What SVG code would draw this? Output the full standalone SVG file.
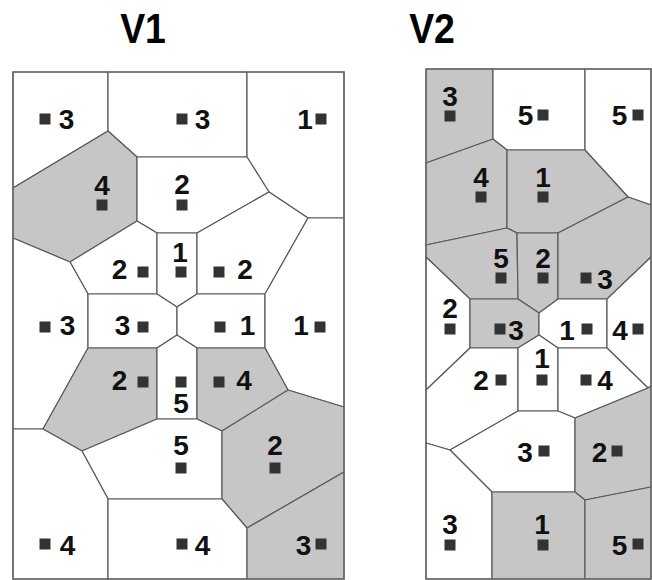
<svg xmlns="http://www.w3.org/2000/svg" width="652" height="580" viewBox="0 0 652 580">
<style>
.c{fill:#fff;stroke:#5a5a5a;stroke-width:1.2;stroke-linejoin:round}
.g{fill:#c6c6c6;stroke:#5a5a5a;stroke-width:1.2;stroke-linejoin:round}
.frame{fill:none;stroke:#6a6a6a;stroke-width:1.5}
.t{font-family:"Liberation Sans",Arial,sans-serif;font-weight:bold;font-size:28px;fill:#111;text-anchor:middle}
.h{font-family:"Liberation Sans",Arial,sans-serif;font-weight:bold;font-size:43px;fill:#000;text-anchor:middle}
</style>
<defs><rect id="sq" x="-5.5" y="-5.5" width="11" height="11" fill="#333"/></defs>
<rect width="652" height="580" fill="#fff"/>
<text class="h" transform="translate(143,43) scale(0.87,1)">V1</text>
<text class="h" transform="translate(432,43) scale(0.87,1)">V2</text>

<g id="V1">
<g id="v1-c1"><polygon class="c" points="13,72 108,72 108,131 13,188"/><use href="#sq" x="45" y="119"/><text class="t" x="66.5" y="129">3</text></g>
<g id="v1-c2"><polygon class="c" points="108,72 247,72 247,157 137,157 108,131"/><use href="#sq" x="182" y="119"/><text class="t" x="202.5" y="129">3</text></g>
<g id="v1-c3"><polygon class="c" points="247,72 344,72 344,218 308,218 269,192 247,157"/><use href="#sq" x="321" y="119"/><text class="t" x="305" y="129">1</text></g>
<g id="v1-c4"><polygon class="g" points="13,188 108,131 137,157 137,221 70,262 13,238"/><use href="#sq" x="102" y="205"/><text class="t" x="102" y="195">4</text></g>
<g id="v1-c5"><polygon class="c" points="137,157 247,157 269,192 197,233 157,233 137,221"/><use href="#sq" x="182" y="205"/><text class="t" x="182" y="194">2</text></g>
<g id="v1-c6"><polygon class="c" points="70,262 137,221 157,233 157,294 88,294"/><use href="#sq" x="143" y="272"/><text class="t" x="119.5" y="279">2</text></g>
<g id="v1-c7"><polygon class="c" points="157,233 197,233 197,294 177,307 157,294"/><use href="#sq" x="181" y="272"/><text class="t" x="180" y="262">1</text></g>
<g id="v1-c8"><polygon class="c" points="197,233 269,192 308,218 265,294 197,294"/><use href="#sq" x="219" y="272"/><text class="t" x="245" y="279">2</text></g>
<g id="v1-c9"><polygon class="c" points="13,238 70,262 88,294 88,348 43,429 13,429"/><use href="#sq" x="45" y="327"/><text class="t" x="67.5" y="335">3</text></g>
<g id="v1-c10"><polygon class="c" points="88,294 157,294 177,307 177,335 157,348 88,348"/><use href="#sq" x="143" y="327"/><text class="t" x="122.5" y="335">3</text></g>
<g id="v1-c11"><polygon class="c" points="197,294 265,294 265,348 197,348 177,335 177,307"/><use href="#sq" x="220" y="327"/><text class="t" x="247.5" y="335">1</text></g>
<g id="v1-c12"><polygon class="c" points="308,218 344,218 344,407 288,390 265,348 265,294"/><use href="#sq" x="320" y="327"/><text class="t" x="301" y="335">1</text></g>
<g id="v1-c13"><polygon class="g" points="88,348 157,348 157,419 82,451 43,429"/><use href="#sq" x="143" y="382"/><text class="t" x="119.5" y="390">2</text></g>
<g id="v1-c14"><polygon class="c" points="157,348 177,335 197,348 197,419 157,419"/><use href="#sq" x="181" y="382"/><text class="t" x="181" y="413">5</text></g>
<g id="v1-c15"><polygon class="g" points="197,348 265,348 288,390 222,431 197,419"/><use href="#sq" x="219" y="382"/><text class="t" x="244" y="390">4</text></g>
<g id="v1-c16"><polygon class="c" points="157,419 197,419 222,431 222,499 108,499 82,451"/><use href="#sq" x="181" y="468"/><text class="t" x="181" y="455">5</text></g>
<g id="v1-c17"><polygon class="g" points="288,390 344,407 344,472 247,528 222,499 222,431"/><use href="#sq" x="275" y="468"/><text class="t" x="275" y="455">2</text></g>
<g id="v1-c18"><polygon class="c" points="13,429 43,429 82,451 108,499 108,579 13,579"/><use href="#sq" x="45" y="544"/><text class="t" x="67.5" y="555">4</text></g>
<g id="v1-c19"><polygon class="c" points="108,499 222,499 247,528 247,579 108,579"/><use href="#sq" x="182" y="544"/><text class="t" x="202.5" y="555">4</text></g>
<g id="v1-c20"><polygon class="g" points="247,528 344,472 344,579 247,579"/><use href="#sq" x="321" y="544"/><text class="t" x="303.5" y="555">3</text></g>
<rect class="frame" x="13" y="72" width="331" height="507"/>
</g>

<g id="V2">
<g id="v2-c1"><polygon class="g" points="426,69 493,69 493,139 426,163"/><use href="#sq" x="450" y="116"/><text class="t" x="450" y="106">3</text></g>
<g id="v2-c2"><polygon class="c" points="493,69 585,69 585,150 507,150 493,139"/><use href="#sq" x="543" y="115"/><text class="t" x="525.5" y="125">5</text></g>
<g id="v2-c3"><polygon class="c" points="585,69 651,69 651,205 628,197 585,150"/><use href="#sq" x="638" y="115"/><text class="t" x="619.5" y="125">5</text></g>
<g id="v2-c4"><polygon class="g" points="426,163 493,139 507,150 507,228 426,245"/><use href="#sq" x="481" y="197"/><text class="t" x="481" y="187">4</text></g>
<g id="v2-c5"><polygon class="g" points="507,150 585,150 628,197 558,233 517,233 507,228"/><use href="#sq" x="543" y="197"/><text class="t" x="543" y="187">1</text></g>
<g id="v2-c6"><polygon class="g" points="426,245 507,228 517,233 518,299 470,299 426,257"/><use href="#sq" x="501" y="278"/><text class="t" x="501" y="268">5</text></g>
<g id="v2-c7"><polygon class="g" points="517,233 558,233 558,299 539,313 518,299"/><use href="#sq" x="543" y="278"/><text class="t" x="543" y="268">2</text></g>
<g id="v2-c8"><polygon class="g" points="558,233 628,197 651,205 651,257 607,299 558,299"/><use href="#sq" x="586" y="278"/><text class="t" x="605" y="289">3</text></g>
<g id="v2-c9"><polygon class="c" points="426,257 470,299 470,348 426,390"/><use href="#sq" x="450" y="329"/><text class="t" x="450" y="318">2</text></g>
<g id="v2-c10"><polygon class="g" points="470,299 518,299 539,313 539,335 518,348 470,348"/><use href="#sq" x="500" y="329"/><text class="t" x="516" y="340">3</text></g>
<g id="v2-c11"><polygon class="c" points="539,313 558,299 607,299 607,348 558,348 539,335"/><use href="#sq" x="587" y="329"/><text class="t" x="567" y="340">1</text></g>
<g id="v2-c12"><polygon class="c" points="607,299 651,257 651,386 648,388 607,348"/><use href="#sq" x="638" y="329"/><text class="t" x="620" y="340">4</text></g>
<g id="v2-c13"><polygon class="c" points="426,390 470,348 518,348 518,411 450,450 426,443"/><use href="#sq" x="501" y="380"/><text class="t" x="481" y="390">2</text></g>
<g id="v2-c14"><polygon class="c" points="518,348 539,335 558,348 558,411 518,411"/><use href="#sq" x="542" y="380"/><text class="t" x="542" y="368">1</text></g>
<g id="v2-c15"><polygon class="c" points="558,348 607,348 648,388 575,418 558,411"/><use href="#sq" x="586" y="380"/><text class="t" x="605" y="390">4</text></g>
<g id="v2-c16"><polygon class="c" points="450,450 518,411 558,411 575,418 575,492 492,492"/><use href="#sq" x="544" y="451"/><text class="t" x="525" y="462">3</text></g>
<g id="v2-c17"><polygon class="g" points="575,418 648,388 651,386 651,487 585,500 575,492"/><use href="#sq" x="617" y="451"/><text class="t" x="599.5" y="462">2</text></g>
<g id="v2-c18"><polygon class="c" points="426,443 450,450 492,492 492,579 426,579"/><use href="#sq" x="450" y="545"/><text class="t" x="450" y="534">3</text></g>
<g id="v2-c19"><polygon class="g" points="492,492 575,492 585,500 585,579 492,579"/><use href="#sq" x="543" y="545"/><text class="t" x="542" y="534">1</text></g>
<g id="v2-c20"><polygon class="g" points="585,500 651,487 651,579 585,579"/><use href="#sq" x="638" y="544"/><text class="t" x="619.5" y="555">5</text></g>
<rect class="frame" x="426" y="69" width="225" height="510"/>
</g>
<g id="connectors"/>
</svg>
